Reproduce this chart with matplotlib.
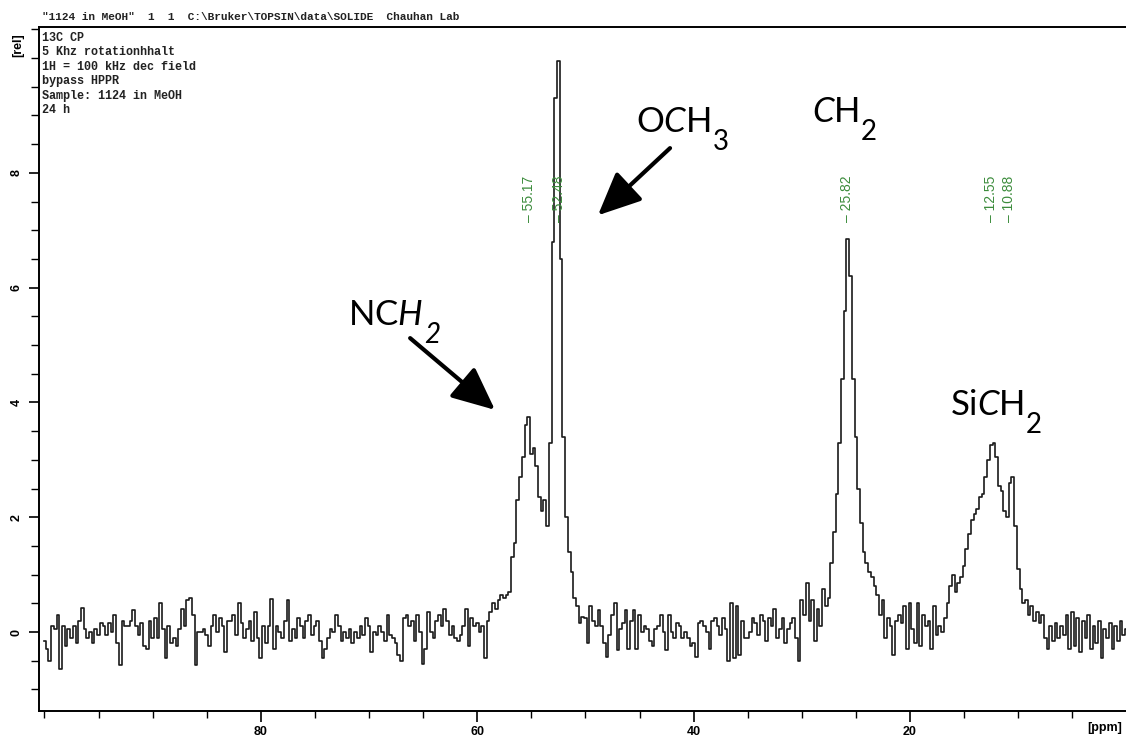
import numpy as np
import matplotlib
matplotlib.use("Agg")
import matplotlib.pyplot as plt
from matplotlib.ticker import MultipleLocator, FixedLocator

base_izq = [
    -0.15, -0.3, -0.5, 0.1, 0.05, 0.3, -0.65, 0.1, -0.25, 0.05,
    -0.1, 0.1, -0.2, 0.2, 0.42, 0.05, -0.1, 0.0, -0.2, 0.05,
    -0.05, 0.15, 0.1, -0.05, 0.15, 0.0, 0.3, -0.2, -0.58, 0.2,
    0.1, 0.1, 0.2, 0.38, 0.1, -0.05, 0.15, -0.25, -0.3, 0.2,
    -0.1, 0.25, -0.1, 0.5, 0.05, -0.45, 0.1, -0.2, -0.1, -0.25,
    0.05, 0.4, 0.1, 0.55, 0.6, 0.3, -0.58, 0.0, 0.0, 0.05,
    -0.05, -0.25, 0.1, 0.3, 0.0, 0.25, 0.1, -0.35, 0.2, 0.2,
    0.3, -0.05, 0.5, 0.15, -0.1, 0.05, 0.2, -0.15, 0.35, -0.1,
    -0.45, 0.1, -0.2, 0.1, 0.58, -0.3, 0.1, 0.0, -0.1, 0.2,
    0.55, -0.15, 0.05, -0.1, 0.25, 0.1, -0.1, 0.2, 0.3, -0.05,
    0.1, 0.2, -0.15, -0.45, -0.3, -0.1, 0.05, 0.0, 0.3, 0.1,
    -0.15, 0.0, -0.1, 0.05, -0.2, 0.0, -0.1, 0.1, -0.05, 0.25,
    0.1, -0.35, 0.0, -0.05, 0.1, 0.0, -0.15, 0.3, -0.05, -0.1,
    -0.2, -0.4, -0.5, 0.25, 0.3, 0.1, 0.2, -0.15, 0.3, 0.0,
    -0.55, -0.3, 0.35, 0.0, -0.1, 0.2, 0.3, 0.1, 0.4, 0.2,
    -0.05, 0.1, -0.1, -0.15, -0.05, 0.1, 0.4, -0.25, 0.25, 0.1,
    0.15, 0.0, 0.1, -0.45, 0.2, 0.35, 0.5, 0.4, 0.55, 0.65,
    0.6,
]
pico_nch2_och3 = [
    0.65, 0.7, 1.3, 1.55, 2.3, 2.7, 3.05, 3.6, 3.75, 3.1,
    3.2, 2.9, 2.35, 2.1, 2.3, 1.85, 3.3, 6.8, 9.3, 9.95,
    6.5, 3.4, 2.0, 1.4, 1.05, 0.6, 0.45, 0.15,
]
base_medio = [
    0.27, 0.25, -0.2, 0.45, 0.2, 0.1, 0.38, 0.1, -0.2, -0.43,
    -0.05, 0.3, 0.5, -0.31, 0.05, 0.15, 0.38, -0.3, 0.2, 0.38,
    -0.3, 0.3, 0.0, 0.1, 0.05, -0.15, -0.25, 0.05, 0.1, 0.3,
    0.0, -0.31, 0.3, 0.0, -0.1, 0.15, 0.1, -0.1, 0.0, -0.1,
    -0.25, -0.2, -0.43, 0.15, 0.2, 0.1, 0.0, -0.3, 0.2, 0.25,
    0.1, -0.05, 0.25, 0.05, -0.5, 0.5, -0.45, 0.45, -0.4, 0.2,
    -0.1, -0.1, 0.0, 0.25, 0.15, -0.05, 0.3, 0.2, -0.15, 0.25,
    0.1, 0.4, -0.1, 0.05, 0.25, -0.2, 0.05, 0.15, 0.25, -0.1,
    -0.5, 0.55,
]
pico_ch2 = [
    0.3, 0.85, 0.2, 0.55, -0.15, 0.4, 0.1, 0.75, 0.45, 0.6,
    1.2, 1.75, 2.4, 3.3, 4.4, 5.6, 6.85, 6.2, 4.4, 3.4,
    2.5, 1.9, 1.4, 1.2, 1.05, 0.95, 0.8, 0.65, 0.3, 0.55,
    -0.1, 0.25,
]
pico_sich2 = [
    0.1, -0.4, 0.2, 0.3, 0.15, 0.45, -0.3, 0.5, 0.05, -0.2,
    0.5, -0.25, 0.3, 0.1, 0.2, -0.3, 0.45, -0.05, 0.1, 0.0,
    0.25, 0.5, 0.8, 1.0, 0.7, 0.85, 0.95, 1.15, 1.45, 1.7,
    1.95, 2.05, 2.15, 2.35, 2.4, 2.7, 3.0, 3.25, 3.3, 3.05,
    2.55, 2.45, 2.1, 2.0, 2.6, 2.7, 1.85, 1.1, 0.75, 0.5,
    0.55, 0.3, 0.45, 0.2, 0.35, 0.15, 0.3, -0.1, -0.3, 0.1,
    -0.15, 0.15, -0.1, 0.1, -0.05, 0.3, -0.3, 0.35, -0.25, 0.25,
    -0.35, 0.2, -0.1, 0.3, -0.3, 0.1, -0.2, 0.2, -0.45, 0.05,
    -0.1, 0.15, -0.3, 0.1, -0.15, 0.2, -0.05, 0.05,
]

desplazamientos = [55.17, 52.48, 25.82, 12.55, 10.88]
etiquetas_picos = ["– 55.17", "– 52.48", "– 25.82", "– 12.55", "– 10.88"]

cabecera = '"1124 in MeOH"  1  1  C:\\Bruker\\TOPSIN\\data\\SOLIDE  Chauhan Lab'
parametros = ["13C CP", "5 Khz rotationhhalt", "1H = 100 kHz dec field",
              "bypass HPPR", "Sample: 1124 in MeOH", "24 h"]

intensidad = np.array(base_izq + pico_nch2_och3 + base_medio + pico_ch2 + pico_sich2)
ppm = np.linspace(100, 0, len(intensidad))

plt.rcParams['mathtext.fontset'] = 'custom'
plt.rcParams['mathtext.rm'] = 'Lato'
plt.rcParams['mathtext.it'] = 'Lato:italic'

W, H = 1126, 738
fig = plt.figure(figsize=(W / 100, H / 100), dpi=100)
ax = fig.add_axes([39 / W, 27 / H, (W - 39) / W, 684 / H])

ax.plot(ppm, intensidad, drawstyle='steps-mid', color='#1a1a1a', lw=1.2)

ax.set_xlim(100.5, 0.04)
ax.set_ylim(-1.376, 10.54)

ax.spines['right'].set_visible(False)
for s in ['left', 'bottom', 'top']:
    ax.spines[s].set_linewidth(1.4)

ax.xaxis.set_major_locator(FixedLocator([80, 60, 40, 20]))
ax.xaxis.set_minor_locator(MultipleLocator(5))
ax.yaxis.set_major_locator(FixedLocator([0, 2, 4, 6, 8]))
ax.yaxis.set_minor_locator(MultipleLocator(0.5))
ax.tick_params(axis='x', which='major', length=8, width=1.2, pad=3)
ax.tick_params(axis='x', which='minor', length=5, width=1.0)
ax.tick_params(axis='y', which='major', length=7, width=1.2, pad=5, labelrotation=90)
ax.tick_params(axis='y', which='minor', length=6, width=1.0)
for lab in ax.get_xticklabels() + ax.get_yticklabels():
    lab.set_fontfamily('Liberation Sans')
    lab.set_fontweight('bold')
    lab.set_fontsize(9)
for lab in ax.get_yticklabels():
    lab.set_va('center')

fig.text(1105 / W, 1 - 728 / H, '[ppm]', ha='center', va='center',
         family='Liberation Sans', weight='bold', fontsize=9)
fig.text(18 / W, 1 - 45 / H, '[rel]', ha='center', va='center', rotation=90,
         family='Liberation Sans', weight='bold', fontsize=9)

fig.text(42 / W, 1 - 17 / H, cabecera, ha='left', va='center',
         family='Liberation Mono', weight='bold', fontsize=8, color='#222222')
for i, linea in enumerate(parametros):
    fig.text(42 / W, 1 - (38 + 14.4 * i) / H, linea, ha='left', va='center',
             family='Liberation Mono', weight='bold', fontsize=8.5, color='#222222')

# etiquetas verdes de los picos
for x, txt in zip(desplazamientos, etiquetas_picos):
    ax.text(x, 7.15, txt, rotation=90, ha='center', va='bottom',
            family='Liberation Sans', fontsize=10, color='#3c8c3c')

# asignaciones: texto principal + subindice grande y bajo, como en el original
estilo = dict(family='Lato', fontsize=25, color='black', ha='left', va='baseline')
renderer = fig.canvas.get_renderer()


def asignacion(x, y, principal, sub, italica=False):
    t = ax.text(x, y, principal, **estilo)
    ancho = t.get_window_extent(renderer).width * 72 / fig.dpi
    ax.annotate(sub, xy=(x, y), xytext=(ancho + 1, -13), textcoords='offset points',
                family='Lato', fontsize=20, color='black', ha='left', va='baseline',
                style='italic' if italica else 'normal')


asignacion(45.3, 8.71, r'O$\mathit{C}$H', '3')
asignacion(29.06, 8.89, r'$\mathit{C}$H', '2')
asignacion(71.94, 5.35, r'NC$\mathit{H}$', '2', italica=True)
asignacion(16.3, 3.78, r'Si$\mathit{C}$H', '2')

flecha = dict(arrowstyle='-|>,head_length=1.1,head_width=0.5', lw=3,
              color='black', mutation_scale=24, shrinkA=0, shrinkB=0)
ax.annotate('', xy=(48.84, 7.26), xytext=(42.18, 8.43), arrowprops=flecha)
ax.annotate('', xy=(58.36, 3.87), xytext=(66.2, 5.12), arrowprops=flecha)

fig.savefig('out.png', dpi=100, facecolor='white')
